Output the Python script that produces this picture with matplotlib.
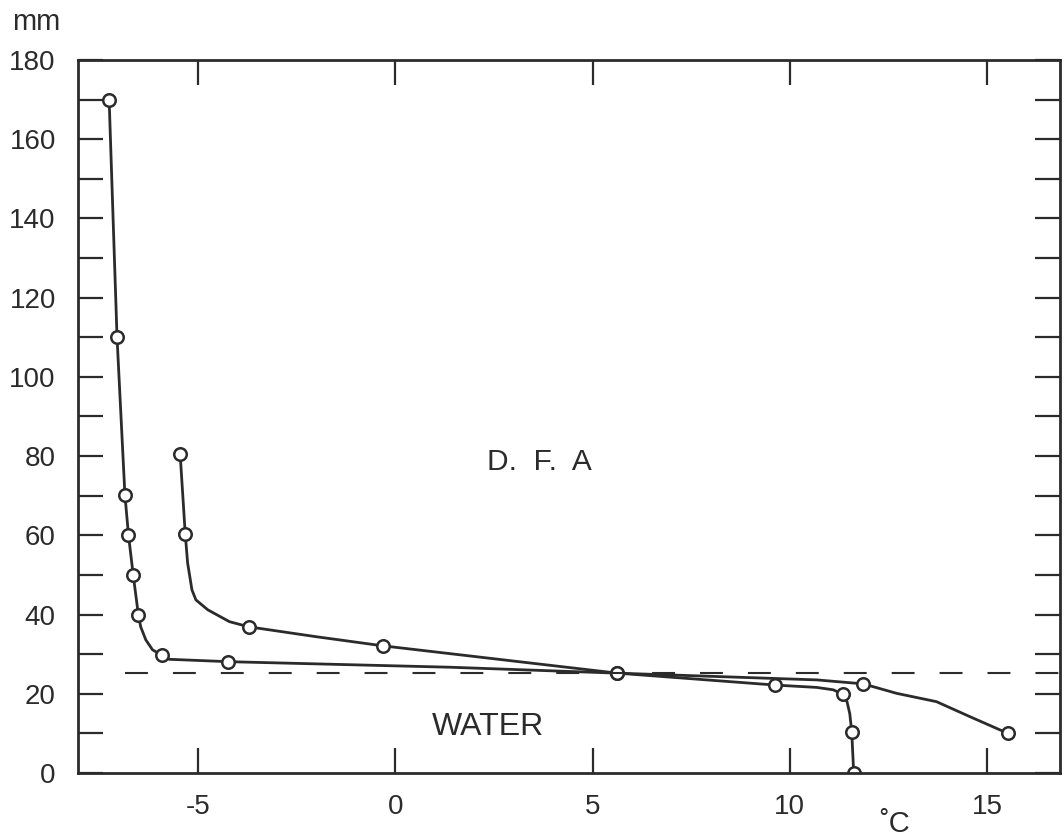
import numpy as np
import matplotlib
matplotlib.use('Agg')
import matplotlib.pyplot as plt
from matplotlib.ticker import MultipleLocator

plt.rcParams['font.family'] = ['Liberation Sans', 'DejaVu Sans']
plt.rcParams['axes.unicode_minus'] = False

ink = '#2b2b2b'

# measured points (temperature in C, depth in mm)
t1 = [-7.26, -7.06, -6.86, -6.77, -6.65, -6.52, -5.92, -4.24, 5.63, 9.62, 11.34, 11.57, 11.62]
d1 = [170, 110, 70.2, 60.1, 50, 40, 29.7, 28.1, 25.2, 22.2, 19.9, 10.4, 0]
t2 = [-5.46, -5.33, -3.72, -0.32, 5.63, 11.86, 15.53]
d2 = [80.6, 60.3, 36.9, 32.1, 25.2, 22.5, 10.0]

# hand drawn line traces (markers + bends)
line1_t = [-7.26, -7.06, -6.86, -6.77, -6.65, -6.52, -6.46, -6.33, -6.16, -5.92, -5.74,
           -4.24, 1.37, 5.63, 9.62, 10.68, 11.1, 11.34, 11.45, 11.52, 11.57, 11.62]
line1_d = [170, 110, 70.2, 60.1, 50, 40, 36.9, 33.6, 31.1, 29.7, 28.7,
           28.1, 26.7, 25.2, 22.2, 21.6, 21.0, 19.9, 18.0, 15.0, 10.4, 0]
line2_t = [-5.46, -5.33, -5.27, -5.16, -5.06, -4.76, -4.21, -3.72, -2.01, -0.32, 5.63,
           10.68, 11.86, 12.71, 13.72, 14.57, 15.53]
line2_d = [80.6, 60.3, 53.0, 46.2, 43.7, 41.2, 38.2, 36.9, 34.4, 32.1, 25.2,
           23.5, 22.5, 20.1, 18.0, 14.2, 10.0]

water_level = 25.2

fig = plt.figure(figsize=(10.64, 8.38), dpi=100)
ax = fig.add_axes([0.0733, 0.0776, 0.9229, 0.8508])

ax.plot(line1_t, line1_d, color=ink, lw=2)
ax.plot(line2_t, line2_d, color=ink, lw=2)
ax.plot(t1, d1, 'o', ms=9, mfc='white', mec=ink, mew=1.8)
ax.plot(t2, d2, 'o', ms=9, mfc='white', mec=ink, mew=1.8)

ax.plot([-6.85, 16.85], [water_level, water_level], color=ink, lw=1.5,
        dashes=(11, 12))

ax.set_xlim(-8.05, 16.85)
ax.set_ylim(0, 180)

ax.yaxis.set_major_locator(MultipleLocator(20))
ax.yaxis.set_minor_locator(MultipleLocator(10))
ax.set_xticks([-5, 0, 5, 10, 15])
ax.tick_params(which='both', direction='in', length=18, width=1.6,
               color=ink, labelcolor=ink, labelsize=20, pad=16,
               top=True, right=True)
ax.tick_params(axis='x', pad=15)
for s in ax.spines.values():
    s.set_linewidth(2)
    s.set_color(ink)

ax.text(3.65, 78.5, 'D.  F.  A', fontsize=21.5, color=ink, ha='center', va='center')
ax.text(2.35, 11.6, 'WATER', fontsize=23, color=ink, ha='center', va='center')
ax.text(12.66, -13, '˚C', fontsize=21, color=ink, ha='center', va='center',
        clip_on=False)
fig.text(12 / 1064, 1 - 22 / 838, 'mm', fontsize=21, color=ink, ha='left', va='center')

fig.savefig('out.png', dpi=100)
